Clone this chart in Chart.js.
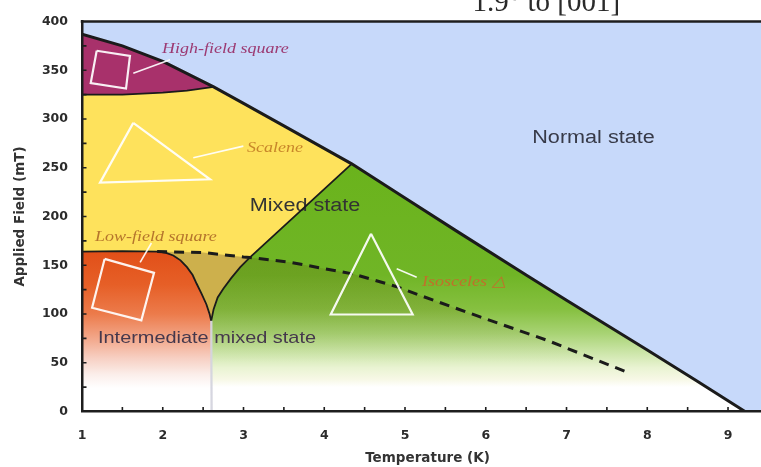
<!DOCTYPE html>
<html>
<head>
<meta charset="utf-8">
<script src="https://cdn.jsdelivr.net/npm/chart.js@4.4.1/dist/chart.umd.min.js"></script>
<style>
  html, body { margin: 0; padding: 0; background: #fff; overflow: hidden; }
  #wrap { width: 773px; height: 467px; }
</style>
</head>
<body>
<div id="wrap"><canvas id="phase" width="773" height="467"></canvas></div>
<script>
// ---- Phase boundaries: temperature (K) and applied field (mT) ----
// Upper critical field Hc2(T), edge of the normal state
const hc2T = [1.0, 1.5, 2.0, 2.63, 3.0, 3.5, 4.34, 5.0, 5.64, 6.5, 7.0, 8.0, 8.6, 9.21];
const hc2H = [387, 375, 359, 333, 316, 293, 254, 219, 185, 140, 114, 63, 32, 0];

// Lower edge of the high-field square lattice pocket
const hfEdgeT = [1.0, 1.5, 2.0, 2.3, 2.63];
const hfEdgeH = [325, 325, 327, 329, 333];

// Edge of the low-field square / intermediate mixed state
const lfEdgeT = [1.0, 1.5, 1.95, 2.05, 2.13, 2.22, 2.3, 2.37, 2.42, 2.48, 2.54, 2.58, 2.6, 2.605, 2.61];
const lfEdgeH = [164, 164.5, 164, 162.5, 160, 155, 148, 140, 131, 121, 110, 100, 93, 50, 0];

// Left edge of the isosceles-lattice mixed state
const mixEdgeT = [2.6, 2.6, 2.63, 2.68, 2.75, 2.85, 2.96, 3.08, 4.34];
const mixEdgeH = [0, 93, 105, 117, 126, 137, 148, 158, 254];

// Crossover line (dashed)
const crossT = [1.93, 2.5, 3.0, 3.08, 3.58, 4.36, 4.9, 5.19, 5.93, 6.76, 7.79];
const crossH = [164, 163, 158.5, 158, 153, 141, 128, 119, 97, 73, 39];

// Lattice symbols (outlined) and their leader lines
const hfSquareT = [1.182, 1.594, 1.545, 1.108, 1.182];
const hfSquareH = [370, 364.8, 331.2, 336.9, 370];
const hfLeadT = [1.635, 2.09];
const hfLeadH = [347, 360.8];

const scaleneT = [1.635, 2.585, 1.223, 1.635];
const scaleneH = [296, 238.2, 234.7, 296];
const scaleneLeadT = [2.378, 2.998];
const scaleneLeadH = [260.3, 272.2];

const lfSquareT = [1.28, 1.892, 1.735, 1.125, 1.28];
const lfSquareH = [156.5, 142.2, 93.5, 106.4, 156.5];
const lfLeadT = [1.72, 1.86];
const lfLeadH = [153, 172.8];

const isoT = [4.579, 5.095, 4.08, 4.579];
const isoH = [182.3, 99.5, 99.5, 182.3];
const isoLeadT = [4.897, 5.145];
const isoLeadH = [146.3, 137.7];

// Axis ranges
const T_MIN = 1, T_MAX = 9.557;
const H_MIN = 0, H_MAX = 400;

// ---- helpers ----
const pts = (T, H) => T.map((t, i) => ({ x: t, y: H[i] }));
const hc2 = pts(hc2T, hc2H);
const hfEdge = pts(hfEdgeT, hfEdgeH);
const lfEdge = pts(lfEdgeT, lfEdgeH);
const mixEdge = pts(mixEdgeT, mixEdgeH);
const cross = pts(crossT, crossH);
const T_JOIN = 3.08; // where the crossover meets the mixed-state edge

// vertical gradient whose stops are given at field values
const vGrad = (stops) => (c) => {
  const chart = c.chart, y = chart.scales.y;
  if (!chart.chartArea || !y) return stops[0][1];
  const top = y.getPixelForValue(stops[0][0]);
  const bot = y.getPixelForValue(stops[stops.length - 1][0]);
  const g = chart.ctx.createLinearGradient(0, top, 0, bot);
  stops.forEach(([v, col]) => g.addColorStop((y.getPixelForValue(v) - top) / (bot - top), col));
  return g;
};

const BLUE = '#c7d9fa';
const PURPLE = '#a8316b';
const YELLOW = '#fee25c';
const OLIVE = '#cdb04c';
const GREEN = vGrad([[254, '#6ab31c'], [140, '#70b526'], [105, '#86c040'], [80, '#a8d374'], [60, '#cde6aa'], [45, '#e9f3d2'], [33, '#f7f8e6'], [25, '#ffffff']]);
const ORANGE = vGrad([[165, '#e14f18'], [130, '#e65f27'], [100, '#ec7b4b'], [75, '#f2a78a'], [55, '#f7cfc2'], [38, '#fbeeea'], [24, '#ffffff']]);
const SHADE = vGrad([[165, 'rgba(90,70,10,0.2)'], [110, 'rgba(90,70,10,0.13)'], [70, 'rgba(90,70,10,0.04)'], [50, 'rgba(90,70,10,0)']]);

const region = (label, data, color, order, fill = 'origin') => ({
  label, data, fill, order,
  backgroundColor: color, borderColor: 'rgba(0,0,0,0)', borderWidth: 0,
  pointRadius: 0, tension: 0
});

const edgeColor = (s) => (s.p0.parsed.y < 90 || s.p1.parsed.y < 90) ? 'rgba(212,212,222,0.8)' : '#1b1b1b';
const edge = (label, data, width, order, extra = {}) => Object.assign({
  label, data, fill: false, order,
  borderColor: '#1b1b1b', borderWidth: width, pointRadius: 0, tension: 0
}, extra);

const outline = (label, T, H, width) => ({
  label, data: pts(T, H), fill: false, order: 1,
  borderColor: 'rgba(255,255,255,0.92)', borderWidth: width, pointRadius: 0, tension: 0,
  borderJoinStyle: 'miter'
});

const datasets = [
  outline('hf-square', hfSquareT, hfSquareH, 2.2),
  outline('hf-lead', hfLeadT, hfLeadH, 1.6),
  outline('scalene', scaleneT, scaleneH, 2.2),
  outline('scalene-lead', scaleneLeadT, scaleneLeadH, 1.6),
  outline('lf-square', lfSquareT, lfSquareH, 2.2),
  outline('lf-lead', lfLeadT, lfLeadH, 1.6),
  outline('isosceles', isoT, isoH, 2.2),
  outline('iso-lead', isoLeadT, isoLeadH, 1.6),

  edge('Hc2', hc2, 3, 2),
  edge('hf-edge', hfEdge, 1.8, 2),
  edge('lf-edge', lfEdge, 1.8, 2, { segment: { borderColor: edgeColor } }),
  edge('mix-edge', mixEdge, 1.8, 2, { segment: { borderColor: edgeColor } }),
  edge('crossover', cross, 3, 2, { borderDash: [10, 7] }),

  region('low-field', lfEdge, ORANGE, 50),
  region('shade', mixEdge.filter(p => p.x <= T_JOIN).concat(cross.filter(p => p.x > T_JOIN)), SHADE, 60),
  region('mixed', mixEdge.concat(hc2.filter(p => p.x > 4.34)), GREEN, 70),
  region('intermediate', cross.filter(p => p.x <= T_JOIN), OLIVE, 75),
  region('scalene-fill', hfEdge.concat(hc2.filter(p => p.x > 2.63 && p.x <= 4.34)), YELLOW, 80),
  region('high-field', hc2.filter(p => p.x <= 2.63), PURPLE, 90),
  region('normal', hc2.concat([{ x: T_MAX, y: 0 }]), BLUE, 100, 'end')
];

// Region names and lattice labels, placed in data coordinates
const sansLabels = [
  { text: 'Normal state', t: 7.334, h: 280.4, size: 18, color: '#373a48' },
  { text: 'Mixed state', t: 3.762, h: 210.9, size: 18, color: '#333333' },
  { text: 'Intermediate mixed state', t: 2.548, h: 75.1, size: 16.6, color: '#45384c' }
];
const italicLabels = [
  { text: 'High-field square', t: 1.991, h: 371.3, color: '#9c3a72' },
  { text: 'Scalene', t: 3.043, h: 270.2, color: '#c8862a' },
  { text: 'Low-field square', t: 1.161, h: 179.2, color: '#b5752c' },
  { text: 'Isosceles \u25B3', t: 5.211, h: 132.3, color: '#c0702a' }
];

const labelPlugin = {
  id: 'phaseLabels',
  afterDatasetDraw(chart, args) {
    if (chart.data.datasets[args.index].label !== 'low-field') return;
    const { ctx, scales: { x, y } } = chart;
    ctx.save();
    ctx.textBaseline = 'middle';
    sansLabels.forEach(l => {
      ctx.save();
      ctx.translate(x.getPixelForValue(l.t), y.getPixelForValue(l.h));
      ctx.scale(1.2, 1);
      ctx.font = `${l.size}px "Liberation Sans", Arial, sans-serif`;
      ctx.fillStyle = l.color;
      ctx.textAlign = 'center';
      ctx.fillText(l.text, 0, 0);
      ctx.restore();
    });
    italicLabels.forEach(l => {
      ctx.save();
      ctx.translate(x.getPixelForValue(l.t), y.getPixelForValue(l.h));
      ctx.scale(1.2, 1);
      ctx.font = 'italic 15px "Liberation Serif", "Times New Roman", serif';
      ctx.fillStyle = l.color;
      ctx.textAlign = 'left';
      ctx.fillText(l.text, 0, 0);
      ctx.restore();
    });
    ctx.restore();
  }
};

// Top frame line, inward tick marks and the orientation heading
const framePlugin = {
  id: 'frame',
  afterDraw(chart) {
    const { ctx, chartArea: a, scales: { x, y } } = chart;
    ctx.save();
    ctx.strokeStyle = '#1e1e1e';
    ctx.lineWidth = 2.5;
    ctx.beginPath();
    ctx.moveTo(a.left - 1.25, a.top);
    ctx.lineTo(a.right, a.top);
    ctx.stroke();
    ctx.lineWidth = 1.6;
    ctx.beginPath();
    for (let v = H_MIN + 25; v < H_MAX; v += 25) {
      const py = y.getPixelForValue(v);
      ctx.moveTo(a.left, py); ctx.lineTo(a.left + 4.5, py);
    }
    for (let t = T_MIN + 0.5; t < T_MAX; t += 0.5) {
      const px = x.getPixelForValue(t);
      ctx.moveTo(px, a.bottom); ctx.lineTo(px, a.bottom - 4.5);
    }
    ctx.stroke();

    ctx.font = '29px "Liberation Serif", "Times New Roman", serif';
    ctx.fillStyle = '#2a2a2a';
    ctx.textAlign = 'center';
    ctx.textBaseline = 'alphabetic';
    ctx.fillText('1.9\u00B0 to [001]', x.getPixelForValue(6.75), a.top - 11);
    ctx.restore();
  }
};

const tickFont = { family: '"DejaVu Sans", sans-serif', size: 12.5, weight: 'bold' };
const titleFont = { family: '"DejaVu Sans", sans-serif', size: 13.5, weight: 'bold', lineHeight: 1.2 };

new Chart(document.getElementById('phase'), {
  type: 'line',
  data: { datasets },
  options: {
    responsive: false,
    animation: false,
    events: [],
    layout: { padding: { top: 20, left: 0, right: 0, bottom: 0 } },
    plugins: { legend: { display: false }, tooltip: { enabled: false } },
    scales: {
      x: {
        type: 'linear', min: T_MIN, max: T_MAX,
        grid: { display: false, drawTicks: false },
        border: { display: true, color: '#1e1e1e', width: 2.5, z: 1 },
        ticks: { stepSize: 1, includeBounds: false, padding: 17, color: '#2b2b2b', font: tickFont, maxRotation: 0 },
        title: { display: true, text: 'Temperature (K)', color: '#333', font: titleFont, padding: { top: 0, bottom: 0 } },
        afterFit: (s) => { s.height = 55.5; }
      },
      y: {
        type: 'linear', min: H_MIN, max: H_MAX,
        grid: { display: false, drawTicks: false },
        border: { display: true, color: '#1e1e1e', width: 2.5, z: 1 },
        ticks: { stepSize: 50, padding: 14, color: '#2b2b2b', font: tickFont },
        title: { display: true, text: 'Applied Field (mT)', color: '#333', font: titleFont, padding: { top: 12, bottom: 0 } },
        afterFit: (s) => { s.width = 82; }
      }
    }
  },
  plugins: [labelPlugin, framePlugin]
});
</script>
</body>
</html>
